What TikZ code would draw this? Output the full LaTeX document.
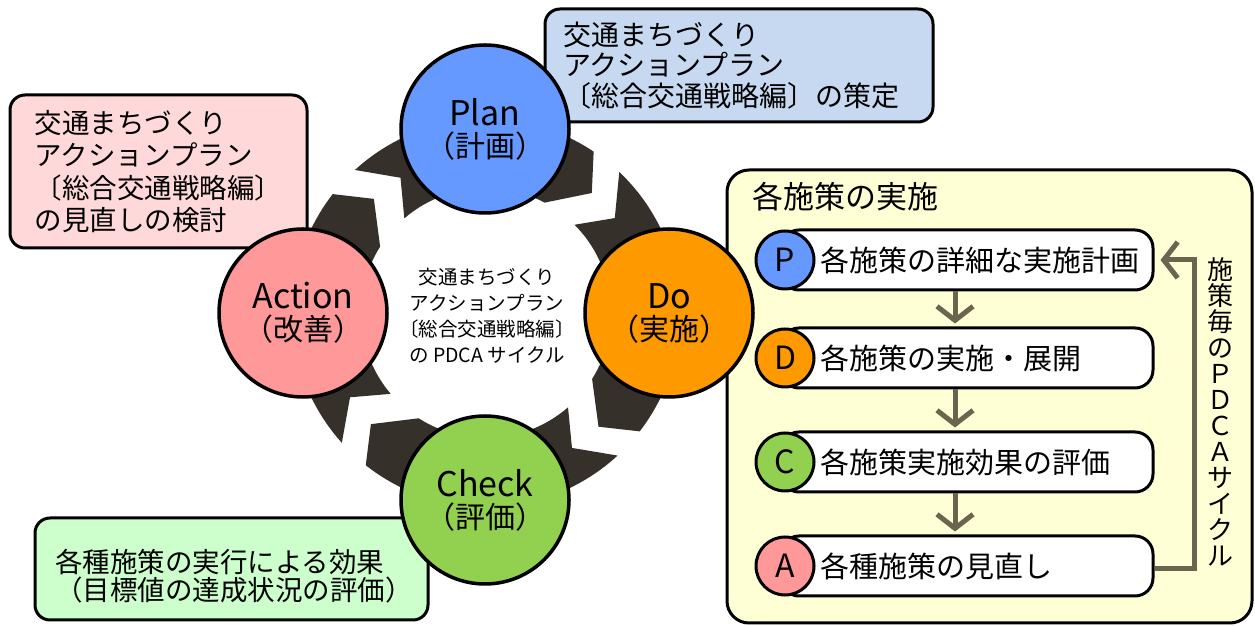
\documentclass[tikz,border=0pt]{standalone}
\usepackage{fontspec}
\setmainfont{Noto Sans CJK JP}
\usetikzlibrary{arrows.meta,calc}
\definecolor{ringc}{HTML}{35302A}
\definecolor{arrc}{HTML}{6B6550}
\definecolor{planc}{HTML}{6699FF}
\definecolor{doc}{HTML}{FF9900}
\definecolor{checkc}{HTML}{92D050}
\definecolor{actc}{HTML}{FF9999}
\definecolor{bluebox}{HTML}{C6D9F1}
\definecolor{pinkbox}{HTML}{FFD9D9}
\definecolor{greenbox}{HTML}{CCFFCC}
\definecolor{panelc}{HTML}{FFFFD5}
\newcommand\ringpiece[2]{%
  \fill[ringc] ({#1-2}:194) arc[start angle={#1-2}, end angle={#2+7.7}, radius=194pt]
    -- ({#2}:160) -- ({#2+13.4}:125)
    arc[start angle={#2+13.4}, end angle={#1-3.7}, radius=125pt]
    -- ({#1-12.2}:160) -- cycle;}
\newcommand\circlabel[2]{{\fontsize{34}{32}\selectfont #1}\\{\fontsize{30}{32}\selectfont （#2）}}
\tikzset{
  bigcirc/.style={circle, draw, line width=3.5pt, minimum size=168pt, inner sep=0pt, align=center,
    font=\fontsize{30}{32}\selectfont},
  note/.style={draw, line width=3pt, rounded corners=15pt, align=left, inner sep=0pt},
  rowbox/.style={draw, line width=3pt, fill=white, rounded corners=18pt, minimum width=372pt, minimum height=60pt, inner sep=0pt},
  rowcirc/.style={circle, draw, line width=3pt, minimum size=58pt, inner sep=0pt, font=\fontsize{32}{32}\selectfont},
  rowtext/.style={anchor=west, inner sep=0pt, font=\fontsize{29}{30}\selectfont},
  flow/.style={arrc, line width=5pt, -{Straight Barb[length=14pt, width=36pt]}},
}
\begin{document}
\begin{tikzpicture}[x=1pt,y=1pt]
\useasboundingbox (0,0) rectangle (1255,626);
\fill[white] (0,0) rectangle (1255,626);

% note boxes
\node[note, fill=bluebox, minimum width=388pt, minimum height=113pt, text width=352pt,
  font=\fontsize{28}{30.5}\selectfont] (planbox) at (739,560.5)
  {交通まちづくり\\アクションプラン\\〔総合交通戦略編〕の策定};
\node[note, fill=pinkbox, minimum width=297pt, minimum height=153pt,
  font=\fontsize{27.5}{32.5}\selectfont] (actbox) at (158.5,454.5)
  {交通まちづくり\\アクションプラン\\〔総合交通戦略編〕\\の見直しの検討};
\node[note, fill=greenbox, minimum width=393pt, minimum height=102pt] (chkbox) at (231.5,57) {};
\node[align=left, inner sep=0pt, anchor=west, font=\fontsize{27.5}{28}\selectfont] (chktext) at (55,50)
  {各種施策の実行による効果\\（目標値の達成状況の評価）};

% right panel
\node[draw, line width=3pt, fill=panelc, rounded corners=22pt, minimum width=525pt,
  minimum height=453pt, inner sep=0pt] (panel) at (989.5,229.5) {};
\node[anchor=west, inner sep=0pt, font=\fontsize{31}{31}\selectfont] (ptitle) at (752,429) {各施策の実施};

\node[rowbox] (rowP) at (967,366) {};
\node[rowbox] (rowD) at (967,268) {};
\node[rowbox] (rowC) at (967,164) {};
\node[rowbox] (rowA) at (967,60) {};
\node[rowcirc, fill=planc] (cP) at (785,366) {P};
\node[rowcirc, fill=doc] (cD) at (785,268) {D};
\node[rowcirc, fill=checkc] (cC) at (785,164) {C};
\node[rowcirc, fill=actc] (cA) at (785,60) {A};
\node[rowtext] (tP) at (820,366) {各施策の詳細な実施計画};
\node[rowtext] (tD) at (820,268) {各施策の実施・展開};
\node[rowtext] (tC) at (820,164) {各施策実施効果の評価};
\node[rowtext] (tA) at (820,60) {各種施策の見直し};

\coordinate (ax) at (955,0);
\draw[flow, shorten >=3pt] (rowP.south -| ax) -- (rowD.north -| ax);
\draw[flow, shorten >=3pt] (rowD.south -| ax) -- (rowC.north -| ax);
\draw[flow, shorten >=3pt] (rowC.south -| ax) -- (rowA.north -| ax);
\coordinate (fb) at (1194,366);
\draw[flow, shorten >=6pt] ([yshift=-3pt]rowA.east) -| (fb) -- (rowP.east);
\node[align=center, inner sep=0pt, font=\fontsize{26}{26}\selectfont] (vt) at (1220,214)
  {施\\策\\毎\\の\\Ｐ\\Ｄ\\Ｃ\\Ａ\\サ\\イ\\ク\\ル};

% ring arrows
\begin{scope}[shift={(486,313)}]
  \ringpiece{134.5}{48.6}
  \ringpiece{48.6}{-45.3}
  \ringpiece{-45.3}{-136}
  \ringpiece{224}{134.5}
\end{scope}

\node[align=center, inner sep=0pt, font=\fontsize{19.5}{26}\selectfont] (center) at (487,310)
  {交通まちづくり\\アクションプラン\\〔総合交通戦略編〕\\の PDCA サイクル};

% main circles
\node[bigcirc, fill=planc] (plan) at (485,497) {\circlabel{Plan}{計画}};
\node[bigcirc, fill=doc] (do) at (669,313) {\circlabel{Do}{実施}};
\node[bigcirc, fill=checkc] (check) at (485,126) {\circlabel{Check}{評価}};
\node[bigcirc, fill=actc] (action) at (303,313) {\circlabel{Action}{改善}};
\end{tikzpicture}
\end{document}
